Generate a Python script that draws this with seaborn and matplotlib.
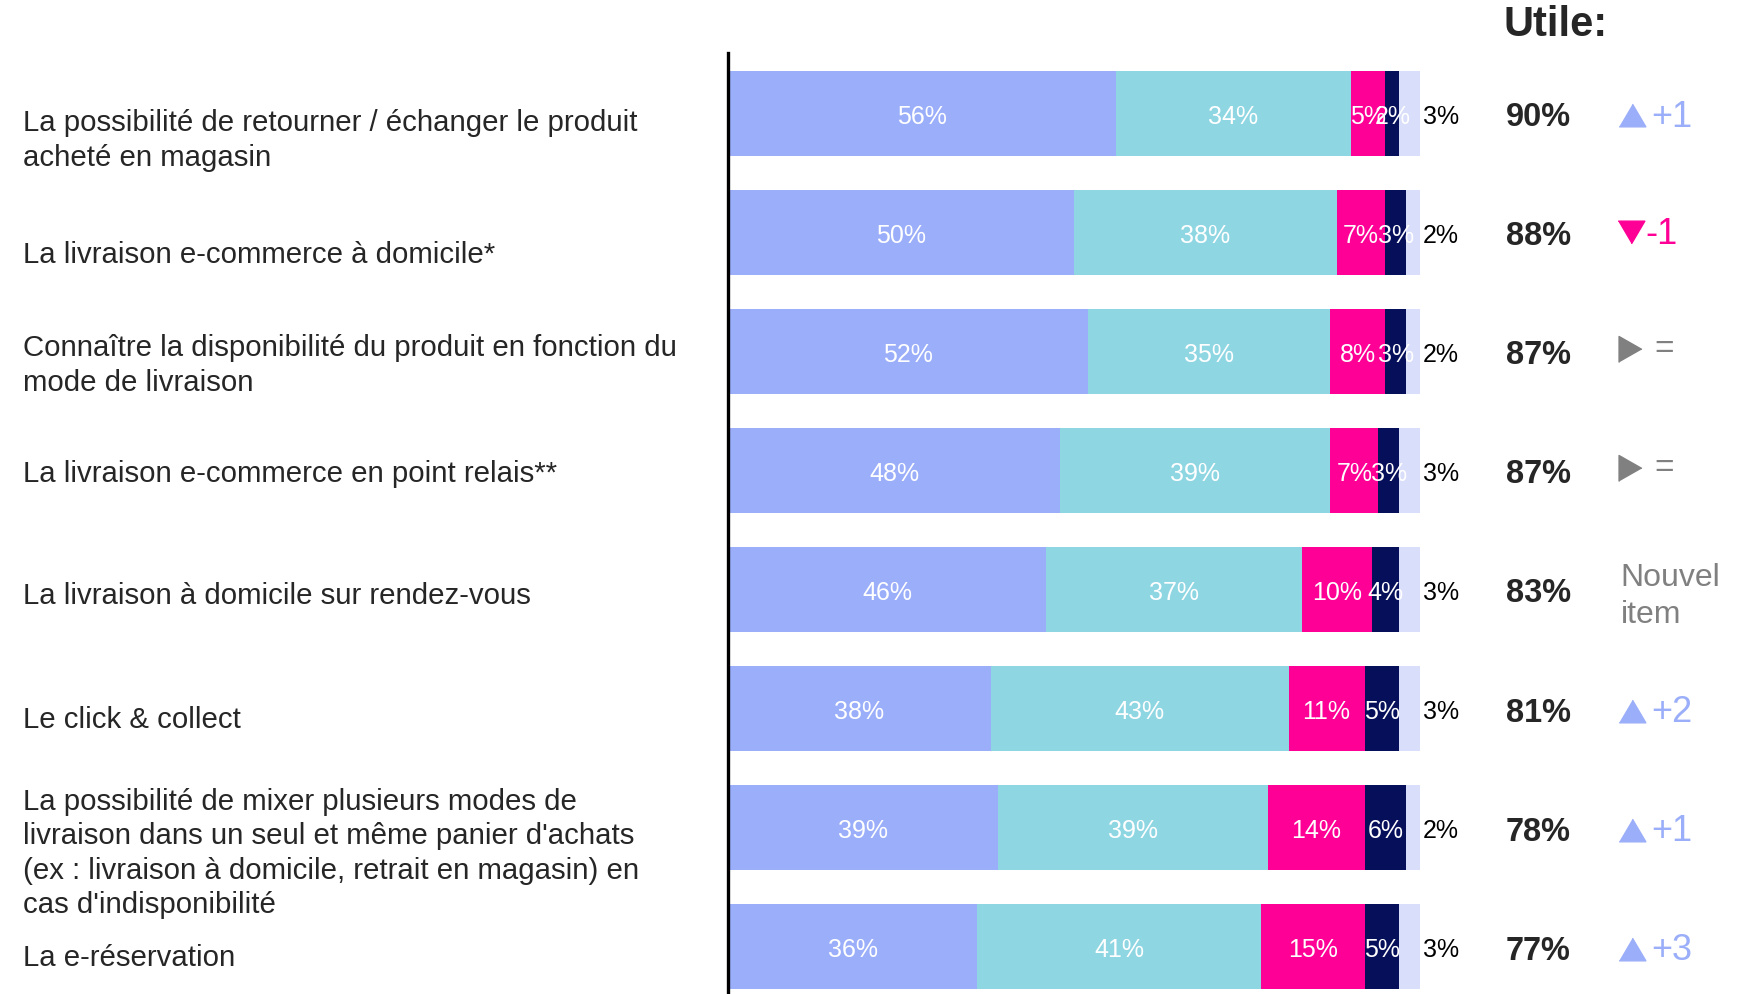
import matplotlib
matplotlib.use("Agg")
import matplotlib.pyplot as plt
import numpy as np
import seaborn as sns

# Data
items = [
    "La possibilité de retourner / échanger le produit\nacheté en magasin",
    "La livraison e-commerce à domicile*",
    "Connaître la disponibilité du produit en fonction du\nmode de livraison",
    "La livraison e-commerce en point relais**",
    "La livraison à domicile sur rendez-vous",
    "Le click & collect",
    "La possibilité de mixer plusieurs modes de\nlivraison dans un seul et même panier d'achats\n(ex : livraison à domicile, retrait en magasin) en\ncas d'indisponibilité",
    "La e-réservation",
]
tres_utile = [56, 50, 52, 48, 46, 38, 39, 36]
plutot_utile = [34, 38, 35, 39, 37, 43, 39, 41]
peu_utile = [5, 7, 8, 7, 10, 11, 14, 15]
pas_utile = [2, 3, 3, 3, 4, 5, 6, 5]
nsp = [3, 2, 2, 3, 3, 3, 2, 3]
utile_total = [90, 88, 87, 87, 83, 81, 78, 77]
evolution = ["+1", "-1", "=", "=", "new", "+2", "+1", "+3"]

# Styling
seg_colors = ["#9baef9", "#8fd6e3", "#ff0096", "#06105a", "#d9defa"]
UP_COL = "#9baef9"
DOWN_COL = "#ff0096"
GREY = "#808080"
label_nudge = [0.23, 0.19, 0.12, 0.03, 0.06, 0.1, 0.22, 0.1]

sns.set_style("white")
plt.rcParams['font.family'] = ['Liberation Sans', 'DejaVu Sans']

W, H = 1747, 994
fig = plt.figure(figsize=(W / 100, H / 100), dpi=100)
ax = fig.add_axes([728 / W, 0, 692 / W, (H - 53) / H])

segments = np.array([tres_utile, plutot_utile, peu_utile, pas_utile, nsp]).T
cum = np.cumsum(segments, axis=1)

# stacked bars: overlay cumulative totals, widest first
for k in reversed(range(segments.shape[1])):
    sns.barplot(x=cum[:, k], y=items, orient="h", color=seg_colors[k],
                width=0.714, saturation=1, linewidth=0, ax=ax)

ax.set_xlim(0, 100)
ax.set_ylim(7.40, -0.504)
ax.set_xticks([])
ax.set_yticks([])
ax.set_xlabel("")
ax.set_ylabel("")
for s in ["top", "right", "bottom"]:
    ax.spines[s].set_visible(False)
ax.spines["left"].set_linewidth(2.4)
ax.spines["left"].set_color("black")

# segment labels
for i in range(len(items)):
    for k in range(4):
        xc = cum[i, k] - segments[i, k] / 2
        ax.text(xc, i + 0.03, f"{segments[i, k]}%", ha="center", va="center",
                color="white", fontsize=18, clip_on=False)
    ax.text(100.4, i + 0.03, f"{segments[i, 4]}%", ha="left", va="center",
            color="black", fontsize=18, clip_on=False)

# left labels
trans = matplotlib.transforms.blended_transform_factory(fig.transFigure, ax.transData)
for i, lab in enumerate(items):
    ax.text(23 / W, i + label_nudge[i], lab, transform=trans, ha="left",
            va="center", fontsize=21.2, linespacing=1.3, clip_on=False)

# right column
ax.text(112.1, -0.74, "Utile:", ha="left", va="center", fontsize=30,
        fontweight="bold", clip_on=False)

up_tri = [(-1, -0.85), (1, -0.85), (0, 0.85)]
down_tri = [(-1, 0.85), (1, 0.85), (0, -0.85)]
right_tri = [(-0.88, -1), (-0.88, 1), (0.88, 0)]

for i, (tot, ev) in enumerate(zip(utile_total, evolution)):
    ax.text(112.4, i + 0.04, f"{tot}%", ha="left", va="center", fontsize=23.5,
            fontweight="bold", clip_on=False)
    if ev == "new":
        ax.text(129.0, i + 0.06, "Nouvel\nitem", ha="left", va="center",
                fontsize=23, color=GREY, linespacing=1.3, clip_on=False)
    elif ev == "=":
        ax.plot([130.3], [i - 0.02], marker=right_tri, markersize=18.7,
                color=GREY, linestyle="none", clip_on=False)
        ax.text(133.8, i - 0.01, "=", ha="left", va="center", fontsize=24,
                color=GREY, clip_on=False)
    elif ev.startswith("-"):
        ax.plot([130.5], [i], marker=down_tri, markersize=19.2,
                color=DOWN_COL, linestyle="none", clip_on=False)
        ax.text(132.6, i + 0.02, ev, ha="left", va="center", fontsize=26,
                color=DOWN_COL, clip_on=False)
    else:
        ax.plot([130.6], [i + 0.02], marker=up_tri, markersize=19.2,
                color=UP_COL, linestyle="none", clip_on=False)
        ax.text(133.4, i + 0.035, ev, ha="left", va="center", fontsize=26,
                color=UP_COL, clip_on=False)

fig.savefig("out.png", dpi=100)
